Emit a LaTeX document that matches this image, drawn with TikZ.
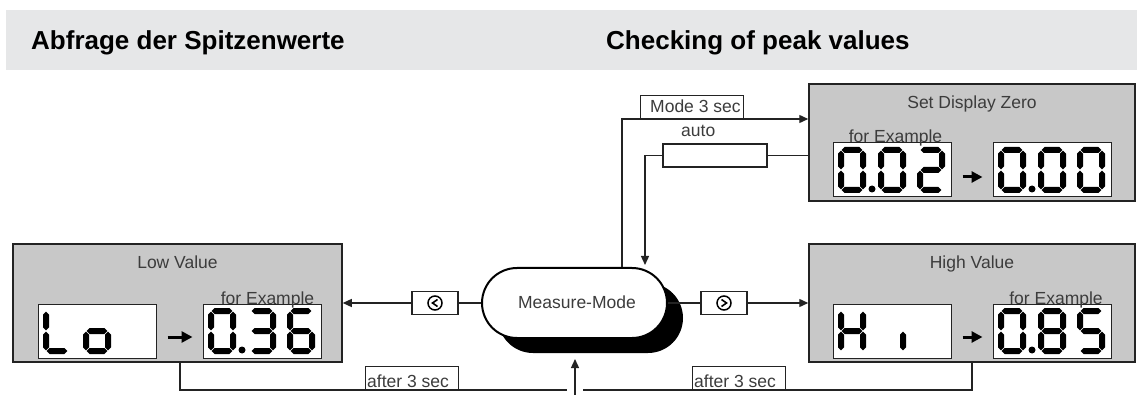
\documentclass[tikz,border=0pt]{standalone}
\usepackage{fontspec}
\setmainfont{Liberation Sans}
\usetikzlibrary{arrows.meta,calc}
\definecolor{bandgray}{RGB}{230,231,232}
\definecolor{boxgray}{RGB}{200,200,200}
\definecolor{edgec}{RGB}{35,35,35}
\definecolor{txtc}{RGB}{60,60,60}
\newcommand\hsg[3]{\fill[segc] ({#1},{#3}) -- ({#1+3},{#3-3}) -- ({#2-3},{#3-3}) -- ({#2},{#3}) -- ({#2-3},{#3+3}) -- ({#1+3},{#3+3}) -- cycle;}
\newcommand\vsg[3]{\fill[segc] ({#1},{#2}) -- ({#1+3},{#2+3}) -- ({#1+3},{#3-3}) -- ({#1},{#3}) -- ({#1-3},{#3-3}) -- ({#1-3},{#2+3}) -- cycle;}
\newcommand\segA[2]{\hsg{#1+3.7}{#1+24.3}{#2+3}}
\newcommand\segB[2]{\vsg{#1+25}{#2+3.7}{#2+22.3}}
\newcommand\segC[2]{\vsg{#1+25}{#2+23.7}{#2+42.3}}
\newcommand\segD[2]{\hsg{#1+3.7}{#1+24.3}{#2+43}}
\newcommand\segE[2]{\vsg{#1+3}{#2+23.7}{#2+42.3}}
\newcommand\segF[2]{\vsg{#1+3}{#2+3.7}{#2+22.3}}
\newcommand\segG[2]{\hsg{#1+3.7}{#1+24.3}{#2+23}}
\newcommand\sevdig[3]{\foreach \sgx in {#3}{\csname seg\sgx\endcsname{#1}{#2}}}
\tikzset{
 conn/.style={draw=edgec, line width=1.3pt},
 tip/.style={-{Triangle[length=9pt,width=8pt]}},
 panel/.style={draw=edgec, line width=1.5pt, fill=boxgray, inner sep=0pt},
 lcd/.style={draw=edgec, line width=1pt, fill=white, inner sep=0pt, minimum width=118pt, minimum height=54pt},
 tagbox/.style={draw=edgec, line width=1.2pt, fill=white, inner sep=0pt},
 lbl/.style={font=\fontsize{17.5}{20}\selectfont, text=txtc, inner sep=0pt},
 ttl/.style={font=\bfseries\fontsize{26}{30}\selectfont, text=black, inner sep=0pt, anchor=base west},
 segc/.style={fill=black},
 pillshape/.style={rounded corners=35pt, minimum width=185pt, minimum height=70pt, inner sep=0pt},
 bigarrow/.style={line width=3pt, -{Triangle[length=11pt,width=11pt]}},
}
\begin{document}
\begin{tikzpicture}[x=1pt,y=-1pt]
\useasboundingbox (0,0) rectangle (1137,395);
\fill[bandgray] (6,10) rectangle (1137,70);
\node[ttl] (t1) at (31,50) {Abfrage der Spitzenwerte};
\node[ttl] (t2) at (606,50) {Checking of peak values};

% panels
\node[panel, minimum width=326pt, minimum height=117pt] (zerobox) at (972,142.5) {};
\node[panel, minimum width=329pt, minimum height=118pt] (lowbox) at (177.5,303) {};
\node[panel, minimum width=326pt, minimum height=118pt] (highbox) at (972,303) {};

\node[lbl, anchor=base] (zt) at (972,109) {Set Display Zero};
\node[lbl, anchor=base] (lt) at (177.5,269) {Low Value};
\node[lbl, anchor=base] (ht) at (972,269) {High Value};

% LCDs
\node[lcd] (lcdlo) at (97,331) {};
\node[lcd] (lcdl) at (262,331) {};
\node[lcd] (lcdhi) at (892,331) {};
\node[lcd] (lcdh) at (1052,331) {};
\node[lcd] (lcdz1) at (892,170) {};
\node[lcd] (lcdz2) at (1052,170) {};

\node[lbl, anchor=base] (zx) at (895.5,143) {for Example};
\node[lbl, anchor=base] (lx) at (267.5,304) {for Example};
\node[lbl, anchor=base] (hx) at (1056,304) {for Example};

% digits
\sevdig{43}{308}{F,E,D}
\sevdig{83}{308}{C,D,E,G}
\sevdig{208}{308}{A,B,C,D,E,F}
\fill[segc] (242,350) circle (3.5);
\sevdig{248}{308}{A,B,C,D,G}
\sevdig{287}{308}{A,F,G,E,D,C}

\sevdig{838}{308}{B,C,E,F,G}
\sevdig{878}{308}{C}
\sevdig{998}{308}{A,B,C,D,E,F}
\fill[segc] (1032,350) circle (3.5);
\sevdig{1038}{308}{A,B,C,D,E,F,G}
\sevdig{1077}{308}{A,F,G,C,D}

\sevdig{838}{147}{A,B,C,D,E,F}
\fill[segc] (872,189) circle (3.5);
\sevdig{878}{147}{A,B,C,D,E,F}
\sevdig{917}{147}{A,B,G,E,D}
\sevdig{998}{147}{A,B,C,D,E,F}
\fill[segc] (1032,189) circle (3.5);
\sevdig{1038}{147}{A,B,C,D,E,F}
\sevdig{1077}{147}{A,B,C,D,E,F}

% small arrows inside panels
\draw[bigarrow] ([shift={(11pt,-6pt)}]lcdlo.east) -- ([shift={(-10pt,-6pt)}]lcdl.west);
\draw[bigarrow] ([shift={(11pt,-6pt)}]lcdhi.east) -- ([shift={(-10pt,-6pt)}]lcdh.west);
\draw[bigarrow] ([shift={(11pt,-7pt)}]lcdz1.east) -- ([shift={(-10pt,-7pt)}]lcdz2.west);

% measure mode pill
\node[pillshape, fill=black] (pillshadow) at (590.5,318) {};
\node[pillshape, draw=black, line width=2pt, fill=white] (pill) at (574.5,303) {};
\node[lbl, anchor=base] (pilltxt) at (577,308.5) {Measure-Mode};

% buttons
\node[tagbox, minimum width=46pt, minimum height=23pt] (lbtn) at (435,303) {};
\node[tagbox, minimum width=46pt, minimum height=23pt] (rbtn) at (724,303) {};
\draw[line width=1.5pt] (lbtn.center) circle (7);
\draw[line width=1.6pt] ([shift={(2.5pt,3.5pt)}]lbtn.center) -- ([shift={(-2.5pt,0pt)}]lbtn.center) -- ([shift={(2.5pt,-3.5pt)}]lbtn.center);
\draw[line width=1.5pt] (rbtn.center) circle (7);
\draw[line width=1.6pt] ([shift={(-2.5pt,3.5pt)}]rbtn.center) -- ([shift={(2.5pt,0pt)}]rbtn.center) -- ([shift={(-2.5pt,-3.5pt)}]rbtn.center);

\draw[conn] (pill.west) -- (lbtn.east);
\draw[conn,tip] (lbtn.west) -- (lowbox.east);
\draw[conn] (pill.east) -- (rbtn.west);
\draw[conn,tip] (rbtn.east) -- (highbox.west);

% mode 3 sec
\node[tagbox, minimum width=103pt, minimum height=23pt, anchor=south west] (modebox) at (640,119) {};
\draw[conn,tip] ([xshift=47.5pt]pill.north) |- (zerobox.west |- modebox.south);
\node[lbl, anchor=base west] (modetxt) at (650,113) {Mode 3 sec};

% auto
\node[tagbox, minimum width=104pt, minimum height=23pt] (autobox) at (715,155.5) {};
\node[lbl, anchor=base west] (autotxt) at (681,137) {auto};
\coordinate (autoend) at (645,265);
\draw[conn] (zerobox.west |- autobox.east) -- (autobox.east);
\draw[conn,tip] (autobox.west) -| (autoend);

% bottom return
\coordinate (jl) at (567,390);
\coordinate (jr) at (583,390);
\draw[conn] ([xshift=2.5pt]lowbox.south) |- (jl);
\draw[conn] (highbox.south) |- (jr);
\coordinate (upbot) at (575,397);
\coordinate (uptop) at (575,359);
\draw[conn,tip] (upbot) -- (uptop);
\node[tagbox, minimum width=93pt, minimum height=23pt, anchor=south west] (after1) at (365,390) {};
\node[lbl, anchor=base west] (a1txt) at (367,387) {after 3 sec};
\node[tagbox, minimum width=93pt, minimum height=23pt, anchor=south west] (after2) at (692,390) {};
\node[lbl, anchor=base west] (a2txt) at (694,387) {after 3 sec};
\end{tikzpicture}
\end{document}
